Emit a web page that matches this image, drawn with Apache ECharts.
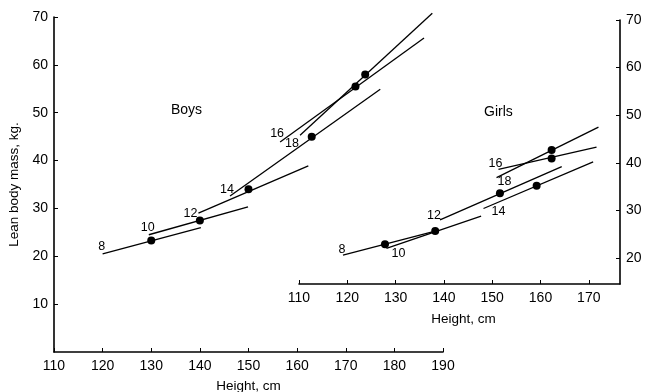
<!DOCTYPE html>
<html>
<head>
<meta charset="utf-8">
<script src="https://cdn.jsdelivr.net/npm/echarts@6/dist/echarts.min.js"></script>
<style>
  html, body { margin: 0; padding: 0; background: #fff; }
  #main { width: 646px; height: 392px; }
</style>
</head>
<body>
<div id="main"></div>
<script>
// ages that label each growth segment
const ages = ['8', '10', '12', '14', '16', '18'];

// boys: mean height / lean body mass per age, and the segment ends
const boysDots = [[130, 23.3], [140, 27.5], [150, 34], [163, 45], [172, 55.5], [174, 58]];
const boysStart = [[120, 20.5], [129.5, 24.5], [139.7, 29.0], [146.2, 32.6], [156.5, 43.9], [160.6, 45.3]];
const boysEnd = [[140.2, 26.0], [149.9, 30.3], [162.3, 38.9], [177.1, 54.9], [186.1, 65.6], [187.8, 70.8]];

// girls
const girlsDots = [[127.8, 22.9], [138.2, 25.7], [151.6, 33.6], [159.2, 35.2], [162.3, 40.9], [162.3, 42.7]];
const girlsStart = [[119.1, 20.6], [128.1, 22.0], [139.2, 28.0], [148.2, 30.4], [151.3, 38.6], [150.9, 36.9]];
const girlsEnd = [[138.4, 25.7], [147.7, 28.8], [164.4, 39.2], [170.9, 40.2], [171.6, 43.3], [172.0, 47.5]];

// tick labels
const girlsXTicks = [110, 120, 130, 140, 150, 160, 170];
const girlsYTicks = [20, 30, 40, 50, 60, 70];

// label placement (pixel offsets from the segment start)
const boysLabelOffset = [[-1, -7], [-1, -7], [-8, 0], [-3, -6], [-3, -8], [-8, 8]];
const girlsLabelOffset = [[-1, -6], [12, 5], [-6, -4], [15, 3], [-3, -5.5], [8, 3.5]];

const ink = '#000';
const font = 'Liberation Sans';

const myChart = echarts.init(document.getElementById('main'));

function segmentSeries(starts, ends, idx) {
  return starts.map(function (s, i) {
    return {
      type: 'line',
      xAxisIndex: idx,
      yAxisIndex: idx,
      data: [s, ends[i]],
      showSymbol: false,
      clip: false,
      silent: true,
      lineStyle: { color: ink, width: 1.3 },
      animation: false,
    };
  });
}

function labelSeries(starts, offsets, idx) {
  return {
    type: 'scatter',
    xAxisIndex: idx,
    yAxisIndex: idx,
    symbolSize: 1,
    silent: true,
    itemStyle: { color: 'rgba(0,0,0,0)', opacity: 1 },
    data: starts.map(function (s, i) {
      return {
        value: s,
        label: { formatter: ages[i], offset: offsets[i] },
      };
    }),
    label: {
      show: true,
      position: 'inside',
      color: ink,
      opacity: 1,
      textBorderWidth: 0,
      fontFamily: font,
      fontSize: 12.5,
    },
    z: 6,
    animation: false,
  };
}

function dotSeries(dots, idx) {
  return {
    type: 'scatter',
    xAxisIndex: idx,
    yAxisIndex: idx,
    data: dots,
    symbolSize: 8,
    silent: true,
    itemStyle: { color: ink, opacity: 1 },
    z: 5,
    animation: false,
  };
}

const axisLine = { lineStyle: { color: ink, width: 1.6 } };
const axisLabel = { color: ink, fontFamily: font, fontSize: 14 };
const nameStyle = { color: ink, fontFamily: font, fontSize: 13.5 };

const option = {
  backgroundColor: '#fff',
  grid: [
    { left: 54, top: 17, width: 389, height: 335, outerBoundsMode: 'none' },
    { left: 299, top: 20, width: 321, height: 264, outerBoundsMode: 'none' },
  ],
  xAxis: [
    {
      gridIndex: 0,
      type: 'value',
      min: 110,
      max: 190,
      interval: 10,
      axisLine: axisLine,
      axisTick: { inside: true, length: 4, lineStyle: { color: ink } },
      axisLabel: Object.assign({ margin: 7 }, axisLabel),
      splitLine: { show: false },
      name: 'Height, cm',
      nameLocation: 'middle',
      nameGap: 27,
      nameTextStyle: nameStyle,
    },
    {
      gridIndex: 1,
      type: 'value',
      min: 110,
      max: 176.46,
      axisLine: axisLine,
      axisTick: { inside: true, length: 4, lineStyle: { color: ink }, customValues: girlsXTicks },
      axisLabel: Object.assign({ margin: 7, customValues: girlsXTicks }, axisLabel),
      splitLine: { show: false },
      name: 'Height, cm',
      nameLocation: 'middle',
      nameGap: 28,
      nameTextStyle: Object.assign({ padding: [0, 0, 0, 8] }, nameStyle),
    },
  ],
  yAxis: [
    {
      gridIndex: 0,
      type: 'value',
      min: 0,
      max: 70,
      interval: 10,
      axisLine: Object.assign({ show: true }, axisLine),
      axisTick: { show: true, inside: true, length: 4, lineStyle: { color: ink } },
      axisLabel: Object.assign({ margin: 6, showMinLabel: false }, axisLabel),
      splitLine: { show: false },
      name: 'Lean body mass, kg.',
      nameLocation: 'middle',
      nameRotate: 90,
      nameGap: 32,
      nameTextStyle: nameStyle,
    },
    {
      gridIndex: 1,
      type: 'value',
      position: 'right',
      min: 14.54,
      max: 70,
      axisLine: Object.assign({ show: true }, axisLine),
      axisTick: { show: true, inside: true, length: 4, lineStyle: { color: ink }, customValues: girlsYTicks },
      axisLabel: Object.assign({ margin: 6, customValues: girlsYTicks }, axisLabel),
      splitLine: { show: false },
    },
  ],
  graphic: [
    { type: 'text', left: 171, top: 103, style: { text: 'Boys', fill: ink, font: '14px ' + font } },
    { type: 'text', left: 484, top: 105, style: { text: 'Girls', fill: ink, font: '14px ' + font } },
  ],
  series: []
    .concat(segmentSeries(boysStart, boysEnd, 0))
    .concat(segmentSeries(girlsStart, girlsEnd, 1))
    .concat([
      dotSeries(boysDots, 0),
      dotSeries(girlsDots, 1),
      labelSeries(boysStart, boysLabelOffset, 0),
      labelSeries(girlsStart, girlsLabelOffset, 1),
    ]),
};

myChart.setOption(option);
</script>
</body>
</html>
